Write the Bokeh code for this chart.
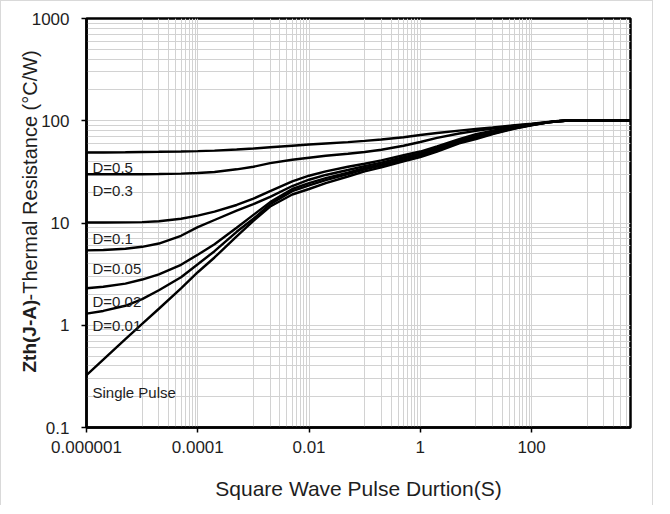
import numpy as np
from bokeh.plotting import figure
from bokeh.models import FixedTicker, Label, Range1d
from bokeh.embed import file_html
from bokeh.resources import INLINE

# pulse duration (s)
t = [1e-6, 2e-6, 5e-6, 1e-5, 2e-5, 5e-5, 1e-4, 2e-4, 5e-4, 1e-3, 2e-3, 5e-3,
     1e-2, 2e-2, 5e-2, 0.1, 0.2, 0.5, 1, 2, 5, 10, 20, 50, 100, 200, 300, 400, 6000]

# thermal impedance (°C/W) per duty cycle
z_d05 = [49, 49, 49.2, 49.5, 49.7, 50.1, 50.5, 51, 52.3, 53.5, 55, 57,
         58.5, 60, 61.8, 63.5, 65.5, 69, 72.5, 76, 80, 83, 86, 90.5, 93.5, 97.5, 99.3, 100, 100]
z_d03 = [30, 30, 30, 30, 30.1, 30.4, 30.8, 31.5, 33.5, 35.5, 38.5, 41.5,
         43.5, 45.5, 47.5, 49.5, 52, 57, 62, 68, 75, 79.5, 84, 89.5, 92.5, 97, 99.2, 100, 100]
z_d01 = [10.1, 10.1, 10.15, 10.2, 10.4, 11, 11.8, 12.9, 15, 17.3, 20.5, 25.5,
         29, 32, 35.5, 38, 41, 46, 50, 56, 66, 74, 80, 88, 92, 97, 99.2, 100, 100]
z_d005 = [5.4, 5.45, 5.6, 5.85, 6.3, 7.5, 9.1, 10.7, 13.2, 15.3, 18, 23,
          26.5, 29.5, 33, 36, 39, 44, 48, 54, 64, 71, 77.5, 86, 91.5, 96.5, 99, 100, 100]
z_d002 = [2.3, 2.38, 2.55, 2.8, 3.15, 3.9, 4.9, 6.2, 9, 12, 16, 21.5,
          24.5, 27.5, 31, 34.5, 37.5, 42.5, 46.5, 52.5, 62, 69, 76, 85, 91, 96.5, 99, 100, 100]
z_d001 = [1.3, 1.38, 1.55, 1.8, 2.2, 2.95, 3.95, 5.3, 8.2, 11, 15.3, 20.5,
          23.3, 26.3, 30, 33.5, 36.5, 41.5, 45.5, 51.5, 61, 67.5, 75, 84.5, 90.5, 96.5, 99, 100, 100]
z_single = [0.325, 0.46, 0.73, 1.03, 1.45, 2.3, 3.3, 4.6, 7.4, 10.5, 14.5, 19,
            21.5, 24.5, 28.5, 32, 35, 40, 44, 50, 60, 66, 74, 84, 90, 96.5, 99, 100, 100]

series = [z_d05, z_d03, z_d01, z_d005, z_d002, z_d001, z_single]

curve_labels = ["D=0.5", "D=0.3", "D=0.1", "D=0.05", "D=0.02", "D=0.01", "Single Pulse"]
label_y = [34.8, 20.7, 7.04, 3.58, 1.70, 0.99, 0.22]

x_major = [1e-6, 1e-4, 1e-2, 1, 100]
x_major_labels = ["0.000001", "0.0001", "0.01", "1", "100"]
y_major = [0.1, 1, 10, 100, 1000]
y_major_labels = ["0.1", "1", "10", "100", "1000"]

FONT = "Liberation Sans"
X0, X1 = 1e-6, 6000
Y0, Y1 = 0.1, 1000

p = figure(x_axis_type="log", y_axis_type="log",
           x_range=Range1d(X0, X1), y_range=Range1d(Y0, Y1),
           frame_width=544, frame_height=409,
           min_border_left=85, min_border_right=18,
           min_border_top=17, min_border_bottom=78,
           output_backend="svg", toolbar_location=None)
p.styles = {"border-top": "1px solid #d9d9d9",
            "border-left": "1px solid #d9d9d9",
            "border-right": "1px solid #d9d9d9"}

x_minor = [m * k for m in x_major for k in range(10, 100, 10)]
y_minor = [10.0 ** e * k for e in range(-1, 3) for k in range(2, 10)]
xt = FixedTicker(ticks=x_major, minor_ticks=x_minor)
yt = FixedTicker(ticks=y_major, minor_ticks=y_minor)
p.xaxis.ticker = xt
p.yaxis.ticker = yt
p.xgrid.ticker = xt
p.ygrid.ticker = yt
p.xaxis.major_label_overrides = {v: s for v, s in zip(x_major, x_major_labels)}
p.yaxis.major_label_overrides = {v: s for v, s in zip(y_major, y_major_labels)}

for g in (p.xgrid, p.ygrid):
    g.grid_line_color = "#d2d2d2"
    g.grid_line_width = 1
    g.minor_grid_line_color = "#d2d2d2"
    g.minor_grid_line_width = 1

for ax in (p.xaxis, p.yaxis):
    ax.axis_line_color = "black"
    ax.axis_line_width = 2.5
    ax.major_tick_line_color = "black"
    ax.major_tick_line_width = 1.5
    ax.major_tick_out = 5
    ax.major_tick_in = 0
    ax.minor_tick_out = 0
    ax.minor_tick_in = 0
    ax.major_label_text_font = FONT
    ax.major_label_text_font_size = "17px"
    ax.major_label_text_color = "#1e1e1e"
p.xaxis.major_label_standoff = 8
p.yaxis.major_label_standoff = 12

p.xaxis.axis_label = "Square Wave Pulse Durtion(S)"
p.xaxis.axis_label_text_font = FONT
p.xaxis.axis_label_text_font_size = "21px"
p.xaxis.axis_label_text_font_style = "normal"
p.xaxis.axis_label_text_color = "#1e1e1e"
p.xaxis.axis_label_standoff = 21

p.outline_line_color = "black"
p.outline_line_width = 2.5
p.outline_line_alpha = 1

for z in series:
    p.line(t, z, line_color="black", line_width=2.4)

for txt, yv in zip(curve_labels, label_y):
    p.add_layout(Label(x=X0, y=yv, x_offset=6, text=txt,
                       text_font=FONT, text_font_size="15px",
                       text_color="#1e1e1e", text_baseline="alphabetic"))

# y-axis title (bold part + normal part), anchored at the frame's bottom-left corner;
# put in side panels so that they are not clipped to the frame
p.add_layout(Label(x=X0, y=Y0, x_offset=-57, y_offset=55,
                   text="Zth(J-A)", angle=np.pi / 2, text_font=FONT,
                   text_font_size="19px", text_font_style="bold",
                   text_color="#1e1e1e", text_baseline="alphabetic",
                   text_align="left"), "left")
p.add_layout(Label(x=X0, y=Y0, x_offset=-57, y_offset=127,
                   text="-Thermal  Resistance (°C/W)", angle=np.pi / 2,
                   text_font=FONT, text_font_size="20px",
                   text_color="#1e1e1e", text_baseline="alphabetic",
                   text_align="left"), "right")

open("out.html", "w").write(file_html(p, INLINE))
